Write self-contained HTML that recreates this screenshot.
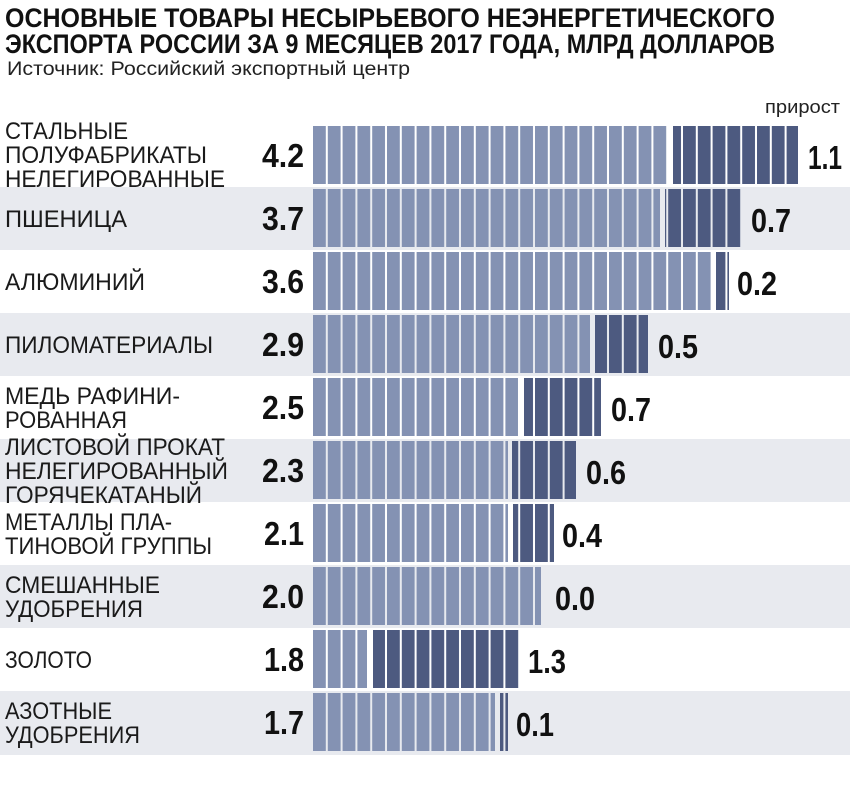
<!DOCTYPE html>
<html><head><meta charset="utf-8"><style>
html,body{margin:0;padding:0;background:#fff;}
svg{display:block;}
text{font-family:"Liberation Sans","DejaVu Sans",sans-serif;}
</style></head><body>
<svg width="850" height="810" viewBox="0 0 850 810" xmlns="http://www.w3.org/2000/svg">
<defs>
<pattern id="pl" patternUnits="userSpaceOnUse" x="313" y="0" width="14.8" height="810"><rect x="0" y="0" width="12.8" height="810" fill="#8492b3"/></pattern>
<pattern id="pd" patternUnits="userSpaceOnUse" x="313" y="0" width="14.8" height="810"><rect x="0" y="0" width="12.8" height="810" fill="#4d5a80"/></pattern>
</defs>
<text x="5" y="27" font-size="27" font-weight="bold" fill="#111" textLength="770" lengthAdjust="spacingAndGlyphs">ОСНОВНЫЕ ТОВАРЫ НЕСЫРЬЕВОГО НЕЭНЕРГЕТИЧЕСКОГО</text>
<text x="5" y="53" font-size="27" font-weight="bold" fill="#111" textLength="770" lengthAdjust="spacingAndGlyphs">ЭКСПОРТА РОССИИ ЗА 9 МЕСЯЦЕВ 2017 ГОДА, МЛРД ДОЛЛАРОВ</text>
<text x="7" y="75" font-size="19" fill="#222" textLength="403" lengthAdjust="spacingAndGlyphs">Источник: Российский экспортный центр</text>
<text x="765" y="113" font-size="18" fill="#222" textLength="75" lengthAdjust="spacingAndGlyphs">прирост</text>

<rect x="0" y="187" width="850" height="63" fill="#e8eaef"/>
<rect x="0" y="313" width="850" height="63" fill="#e8eaef"/>
<rect x="0" y="439" width="850" height="63" fill="#e8eaef"/>
<rect x="0" y="565" width="850" height="63" fill="#e8eaef"/>
<rect x="0" y="691" width="850" height="64" fill="#e8eaef"/>

<g font-size="24" fill="#1a1a1a">
<text x="5" y="139" textLength="123" lengthAdjust="spacingAndGlyphs">СТАЛЬНЫЕ</text>
<text x="5" y="163" textLength="202" lengthAdjust="spacingAndGlyphs">ПОЛУФАБРИКАТЫ</text>
<text x="5" y="187" textLength="220" lengthAdjust="spacingAndGlyphs">НЕЛЕГИРОВАННЫЕ</text>
<text x="5" y="227" textLength="122" lengthAdjust="spacingAndGlyphs">ПШЕНИЦА</text>
<text x="5" y="290" textLength="140" lengthAdjust="spacingAndGlyphs">АЛЮМИНИЙ</text>
<text x="5" y="353" textLength="208" lengthAdjust="spacingAndGlyphs">ПИЛОМАТЕРИАЛЫ</text>
<text x="5" y="404" textLength="175" lengthAdjust="spacingAndGlyphs">МЕДЬ РАФИНИ-</text>
<text x="5" y="428" textLength="122" lengthAdjust="spacingAndGlyphs">РОВАННАЯ</text>
<text x="5" y="455" textLength="220" lengthAdjust="spacingAndGlyphs">ЛИСТОВОЙ ПРОКАТ</text>
<text x="5" y="479" textLength="223" lengthAdjust="spacingAndGlyphs">НЕЛЕГИРОВАННЫЙ</text>
<text x="5" y="503" textLength="197" lengthAdjust="spacingAndGlyphs">ГОРЯЧЕКАТАНЫЙ</text>
<text x="5" y="530" textLength="167" lengthAdjust="spacingAndGlyphs">МЕТАЛЛЫ ПЛА-</text>
<text x="5" y="554" textLength="207" lengthAdjust="spacingAndGlyphs">ТИНОВОЙ ГРУППЫ</text>
<text x="5" y="593" textLength="155" lengthAdjust="spacingAndGlyphs">СМЕШАННЫЕ</text>
<text x="5" y="617" textLength="138" lengthAdjust="spacingAndGlyphs">УДОБРЕНИЯ</text>
<text x="5" y="668" textLength="87" lengthAdjust="spacingAndGlyphs">ЗОЛОТО</text>
<text x="5" y="719" textLength="107" lengthAdjust="spacingAndGlyphs">АЗОТНЫЕ</text>
<text x="5" y="743" textLength="135" lengthAdjust="spacingAndGlyphs">УДОБРЕНИЯ</text>
</g>

<g font-size="33" font-weight="bold" fill="#111">
<text x="262" y="167" textLength="42" lengthAdjust="spacingAndGlyphs">4.2</text>
<text x="262" y="230" textLength="42" lengthAdjust="spacingAndGlyphs">3.7</text>
<text x="262" y="293" textLength="42" lengthAdjust="spacingAndGlyphs">3.6</text>
<text x="262" y="356" textLength="42" lengthAdjust="spacingAndGlyphs">2.9</text>
<text x="262" y="419" textLength="42" lengthAdjust="spacingAndGlyphs">2.5</text>
<text x="262" y="482" textLength="42" lengthAdjust="spacingAndGlyphs">2.3</text>
<text x="264" y="545" textLength="40" lengthAdjust="spacingAndGlyphs">2.1</text>
<text x="262" y="608" textLength="42" lengthAdjust="spacingAndGlyphs">2.0</text>
<text x="264" y="671" textLength="40" lengthAdjust="spacingAndGlyphs">1.8</text>
<text x="264" y="734" textLength="40" lengthAdjust="spacingAndGlyphs">1.7</text>
</g>

<g>
<rect x="313" y="126" width="355" height="58" fill="url(#pl)"/><rect x="673" y="126" width="125" height="58" fill="url(#pd)"/>
<rect x="313" y="189" width="347" height="58" fill="url(#pl)"/><rect x="665" y="189" width="77" height="58" fill="url(#pd)"/>
<rect x="313" y="252" width="399" height="58" fill="url(#pl)"/><rect x="716" y="252" width="13" height="58" fill="url(#pd)"/>
<rect x="313" y="315" width="277" height="58" fill="url(#pl)"/><rect x="595" y="315" width="53" height="58" fill="url(#pd)"/>
<rect x="313" y="378" width="205" height="58" fill="url(#pl)"/><rect x="524" y="378" width="77" height="58" fill="url(#pd)"/>
<rect x="313" y="441" width="195" height="58" fill="url(#pl)"/><rect x="512" y="441" width="64" height="58" fill="url(#pd)"/>
<rect x="313" y="504" width="195" height="58" fill="url(#pl)"/><rect x="513" y="504" width="41" height="58" fill="url(#pd)"/>
<rect x="313" y="567" width="228" height="58" fill="url(#pl)"/>
<rect x="313" y="630" width="54" height="58" fill="url(#pl)"/><rect x="373" y="630" width="147" height="58" fill="url(#pd)"/>
<rect x="313" y="693" width="182" height="58" fill="url(#pl)"/><rect x="500" y="693" width="8" height="58" fill="url(#pd)"/>
</g>

<g font-size="33" font-weight="bold" fill="#111">
<text x="808" y="169" textLength="34" lengthAdjust="spacingAndGlyphs">1.1</text>
<text x="751" y="232" textLength="40" lengthAdjust="spacingAndGlyphs">0.7</text>
<text x="737" y="295" textLength="40" lengthAdjust="spacingAndGlyphs">0.2</text>
<text x="658" y="358" textLength="40" lengthAdjust="spacingAndGlyphs">0.5</text>
<text x="611" y="421" textLength="40" lengthAdjust="spacingAndGlyphs">0.7</text>
<text x="586" y="484" textLength="40" lengthAdjust="spacingAndGlyphs">0.6</text>
<text x="562" y="547" textLength="40" lengthAdjust="spacingAndGlyphs">0.4</text>
<text x="555" y="610" textLength="40" lengthAdjust="spacingAndGlyphs">0.0</text>
<text x="528" y="673" textLength="38" lengthAdjust="spacingAndGlyphs">1.3</text>
<text x="516" y="736" textLength="38" lengthAdjust="spacingAndGlyphs">0.1</text>
</g>
</svg>
</body></html>
